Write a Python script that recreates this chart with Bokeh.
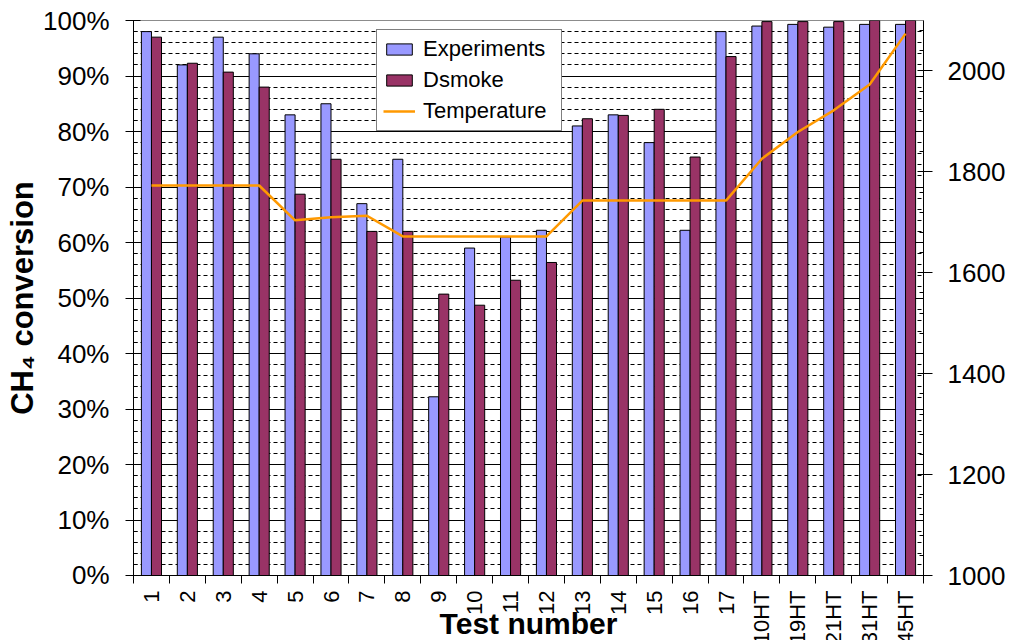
from bokeh.plotting import figure
from bokeh.layouts import column
from bokeh.core.properties import value
from bokeh.models import (Range1d, FixedTicker, PrintfTickFormatter, LinearAxis,
                          Legend, LegendItem, Label, ColumnDataSource)
from bokeh.transform import dodge
from bokeh.embed import file_html
from bokeh.resources import INLINE
from math import pi

# ---- data ----
tests = ["1", "2", "3", "4", "5", "6", "7", "8", "9", "10", "11", "12", "13",
         "14", "15", "16", "17", "10HT", "19HT", "21HT", "31HT", "45HT"]
experiments = [98.0, 92.0, 97.0, 94.0, 83.0, 85.0, 67.0, 75.0, 32.2, 59.0, 61.0,
               62.2, 81.0, 83.0, 78.0, 62.2, 98.0, 99.0, 99.3, 98.8, 99.3, 99.3]
dsmoke = [97.0, 92.3, 90.7, 88.0, 68.7, 75.0, 62.0, 62.0, 50.7, 48.7, 53.2,
          56.4, 82.3, 82.9, 84.0, 75.4, 93.5, 99.8, 99.8, 99.8, 100.0, 100.0]
temperature = [1773, 1773, 1773, 1773, 1704, 1710, 1713, 1672, 1672, 1672, 1672,
               1672, 1743, 1743, 1743, 1743, 1743, 1826, 1879, 1922, 1973, 2074]
pct_ticks = list(range(0, 101, 10))
pct_minor = list(range(0, 101, 2))
temp_ticks = list(range(1000, 2001, 200))
temp_minor = list(range(1000, 2101, 40))

FONT = "Liberation Sans"
n = len(tests)
xpos = [i + 0.5 for i in range(n)]          # category centres on a numeric axis

# ---- layout constants (pixels) ----
W = 1011
TOP, LEFT, RIGHT, BOTTOM = 20, 133, 88, 14
FRAME_H = 555
H1 = TOP + FRAME_H + BOTTOM                  # main chart
H2 = 640 - H1                                # strip with category labels and x title

src = ColumnDataSource(dict(x=xpos, label=tests, exp=experiments, ds=dsmoke, temp=temperature))

p = figure(width=W, height=H1, output_backend="svg", toolbar_location=None,
           x_range=Range1d(0, n), y_range=Range1d(0, 100),
           min_border_left=LEFT, min_border_right=RIGHT, min_border_top=TOP,
           min_border_bottom=BOTTOM,
           background_fill_color="white", border_fill_color="white")
p.outline_line_color = "#8c8c8c"
p.extra_y_ranges = {"temp": Range1d(1000, 2100)}

# ---- left axis ----
yax = p.yaxis[0]
yax.ticker = FixedTicker(ticks=pct_ticks, minor_ticks=pct_minor)
yax.formatter = PrintfTickFormatter(format="%d%%")
yax.major_label_text_font = FONT
yax.major_label_text_font_size = "26px"
yax.major_label_text_color = "black"
yax.major_label_standoff = 16
yax.major_tick_out = 8
yax.major_tick_in = 7
yax.minor_tick_out = 0
yax.minor_tick_in = 4
yax.axis_line_color = "black"
yax.major_tick_line_color = "black"
yax.minor_tick_line_color = "black"
yax.axis_label = "CH\u2084 conversion"
yax.axis_label_text_font = FONT
yax.axis_label_text_font_size = "31px"
yax.axis_label_text_font_style = "bold"
yax.axis_label_text_color = "black"
yax.axis_label_standoff = 0

# ---- grid ----
p.ygrid.ticker = FixedTicker(ticks=pct_ticks[:-1], minor_ticks=pct_minor[:-1])
p.ygrid.grid_line_color = "black"
p.ygrid.minor_grid_line_color = "black"
p.ygrid.minor_grid_line_dash = "4 3"
p.xgrid.visible = False

# ---- bottom axis: only ticks at category boundaries (as minor ticks, so no labels) ----
xax = p.xaxis[0]
xax.ticker = FixedTicker(ticks=[], minor_ticks=list(range(n + 1)))
xax.major_tick_out = 0
xax.major_tick_in = 0
xax.minor_tick_out = 8
xax.minor_tick_in = 0
xax.minor_tick_line_color = "black"
xax.axis_line_color = "black"

# ---- right axis ----
rax = LinearAxis(y_range_name="temp", ticker=FixedTicker(ticks=temp_ticks, minor_ticks=temp_minor))
rax.major_label_text_font = FONT
rax.major_label_text_font_size = "26px"
rax.major_label_text_color = "black"
rax.major_label_standoff = 15
rax.major_tick_out = 9
rax.major_tick_in = 6
rax.minor_tick_out = 0
rax.minor_tick_in = 4
rax.axis_line_color = "black"
rax.major_tick_line_color = "black"
rax.minor_tick_line_color = "black"
p.add_layout(rax, "right")

# ---- bars and line ----
r_exp = p.vbar(x=dodge("x", -0.14), top="exp", width=0.28, source=src,
               fill_color="#9999FF", line_color="black", line_width=1)
r_ds = p.vbar(x=dodge("x", 0.14), top="ds", width=0.28, source=src,
              fill_color="#993366", line_color="black", line_width=1)
r_t = p.line(x="x", y="temp", source=src, y_range_name="temp",
             line_color="#FF9900", line_width=2.5)

# ---- legend ----
legend = Legend(items=[LegendItem(label="Experiments", renderers=[r_exp]),
                       LegendItem(label="Dsmoke", renderers=[r_ds]),
                       LegendItem(label="Temperature", renderers=[r_t])],
                location=(243, FRAME_H - 10 - 101))
legend.label_text_font = FONT
legend.label_text_font_size = "22px"
legend.label_text_color = "black"
legend.label_width = 132
legend.glyph_width = 32
legend.glyph_height = 14
legend.label_standoff = 8
legend.padding = 6
legend.spacing = 5
legend.margin = 0
legend.border_line_color = "black"
legend.border_line_width = 1
legend.background_fill_color = "white"
legend.background_fill_alpha = 1
p.add_layout(legend)

# ---- strip below: category labels and x title, sharing the x range ----
p2 = figure(width=W, height=H2, output_backend="svg", toolbar_location=None,
            x_range=p.x_range, y_range=Range1d(0, H2),
            min_border_left=LEFT, min_border_right=RIGHT, min_border_top=0,
            min_border_bottom=0, x_axis_location=None, y_axis_location=None,
            background_fill_color="white", border_fill_color="white")
p2.outline_line_color = None
p2.grid.visible = False
p2.text(x="x", y=H2 - 1, text="label", source=src, angle=pi / 2,
        text_align="right", text_baseline="middle",
        text_font=value(FONT), text_font_size="22px", text_color="black")
p2.add_layout(Label(x=n / 2, y=17, text="Test number", text_align="center",
                    text_baseline="middle", text_font=FONT, text_font_size="30px",
                    text_font_style="bold", text_color="black"))

layout = column(p, p2, spacing=0)
open("out.html", "w").write(file_html(layout, INLINE))
